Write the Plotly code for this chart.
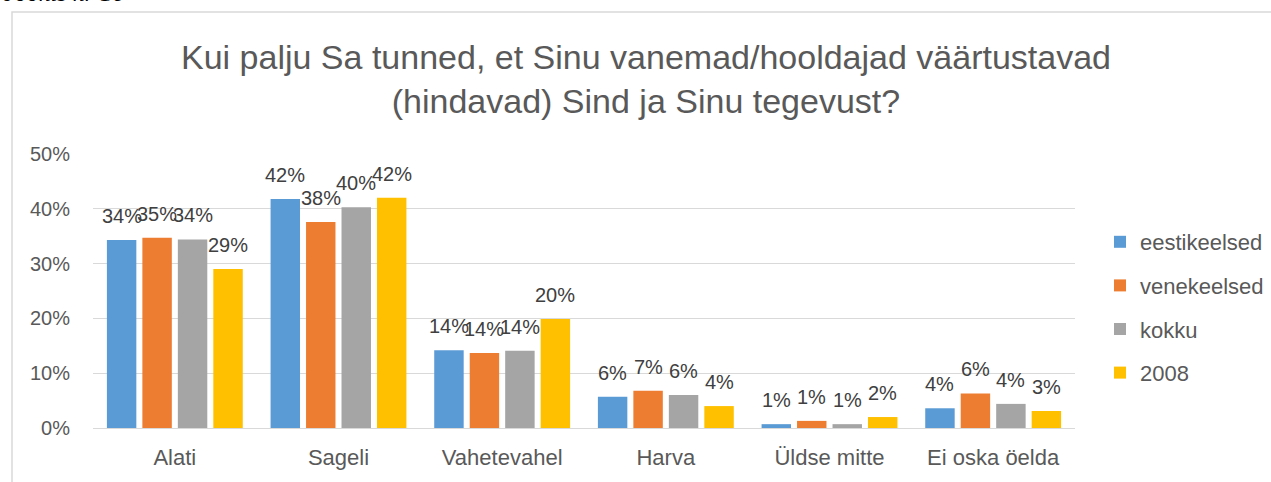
import plotly.graph_objects as go

categories = ["Alati", "Sageli", "Vahetevahel", "Harva", "Üldse mitte", "Ei oska öelda"]
series_names = ["eestikeelsed", "venekeelsed", "kokku", "2008"]
eestikeelsed = [34.3, 41.8, 14.2, 5.7, 0.7, 3.6]
venekeelsed = [34.7, 37.6, 13.7, 6.8, 1.3, 6.3]
kokku = [34.4, 40.3, 14.1, 6.0, 0.7, 4.4]
y2008 = [29.0, 42.0, 19.9, 4.0, 2.0, 3.1]
colors = ["#5B9BD5", "#ED7D31", "#A5A5A5", "#FFC000"]
y_ticks = [0, 10, 20, 30, 40, 50]
y_ticktext = [f"{v}%" for v in y_ticks]

W, H = 1271, 482
L, R, T, B = 93, 196, 154, 54
FONT = "Liberation Sans, Arial"
BARGAP = 0.133
GROUPGAP = 0.17

all_series = [eestikeelsed, venekeelsed, kokku, y2008]

fig = go.Figure()
for name, vals, col in zip(series_names, all_series, colors):
    fig.add_trace(go.Bar(
        x=categories, y=vals, name=name, legendgroup=name,
        marker=dict(color=col, line=dict(width=0)),
        hoverinfo="x+y+name",
    ))

# data labels placed above each grouped bar
n = len(all_series)
for j, vals in enumerate(all_series):
    for i, v in enumerate(vals):
        xc = i - (1 - BARGAP) / 2 + (j + 0.5) * (1 - BARGAP) / n
        fig.add_annotation(
            x=xc, y=v, xref="x", yref="y", text=f"{v:.0f}%",
            showarrow=False, xanchor="center", yanchor="bottom", yshift=11,
            font=dict(size=20, color="#404040", family=FONT),
        )

pw = W - L - R
ph = H - T - B
def px2paper(px):
    return (px - L) / pw
def py2paper(py):
    return (H - B - py) / ph

fig.update_layout(
    width=W, height=H,
    margin=dict(l=L, r=R, t=T, b=B, autoexpand=False),
    paper_bgcolor="white", plot_bgcolor="white",
    barmode="group", bargap=BARGAP, bargroupgap=GROUPGAP,
    font=dict(family=FONT, color="#595959"),
    title=dict(
        text="Kui palju Sa tunned, et Sinu vanemad/hooldajad väärtustavad<br>(hindavad) Sind ja Sinu tegevust?",
        x=px2paper(646), xanchor="center", xref="paper", y=1 - 69 / H, yanchor="middle",
        font=dict(size=34, color="#595959"),
    ),
    xaxis=dict(
        showgrid=False, showline=True, linecolor="#D9D9D9", linewidth=1,
        tickfont=dict(size=22, color="#595959"), ticks="", ticklabelstandoff=10,
        automargin=False,
    ),
    yaxis=dict(
        range=[0, 50], tickvals=y_ticks, ticktext=y_ticktext,
        showgrid=True, gridcolor="#D9D9D9", gridwidth=1,
        zeroline=False, showline=False,
        tickfont=dict(size=20, color="#595959"), ticklabelstandoff=22,
        automargin=False,
    ),
    legend=dict(
        x=px2paper(1100), xanchor="left", y=py2paper(221), yanchor="top",
        font=dict(size=22, color="#595959"), tracegroupgap=12,
        bgcolor="rgba(0,0,0,0)",
    ),
    showlegend=True,
)

# chart border
fig.add_shape(type="rect", xref="paper", yref="paper",
              x0=px2paper(12), x1=px2paper(1280), y0=py2paper(500), y1=py2paper(12),
              line=dict(color="#D9D9D9", width=1.5), fillcolor="rgba(0,0,0,0)", layer="below")

fig.add_annotation(text="<i>Joonis nr 16</i>", xref="paper", yref="paper",
                   x=px2paper(2), y=py2paper(8), xanchor="left", yanchor="bottom",
                   showarrow=False, font=dict(family="Liberation Serif, Times New Roman", size=24, color="#000000"))

fig.write_html("out.html", config={"displayModeBar": False},
               post_script="document.body.style.margin='0px';")
